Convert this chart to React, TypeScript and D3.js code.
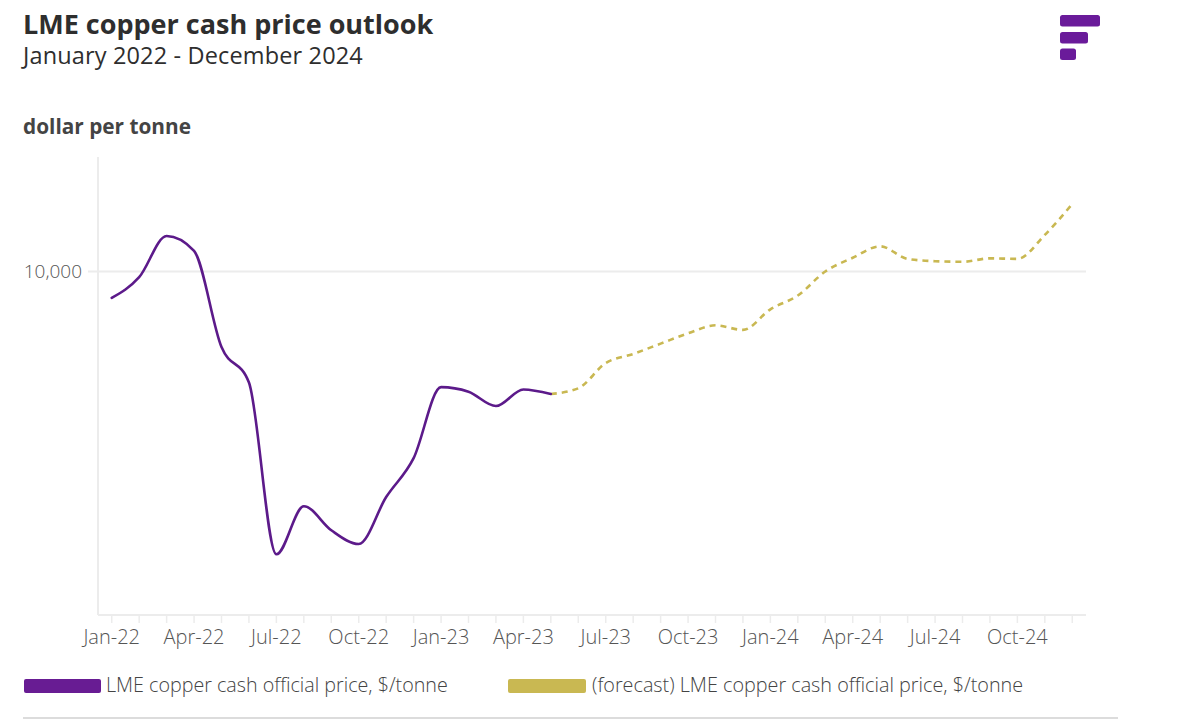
import React from "react";
import * as d3 from "d3";

const months: string[] = [
  "Jan-22","Feb-22","Mar-22","Apr-22","May-22","Jun-22","Jul-22","Aug-22","Sep-22","Oct-22","Nov-22","Dec-22",
  "Jan-23","Feb-23","Mar-23","Apr-23","May-23","Jun-23","Jul-23","Aug-23","Sep-23","Oct-23","Nov-23","Dec-23",
  "Jan-24","Feb-24","Mar-24","Apr-24","May-24","Jun-24","Jul-24","Aug-24","Sep-24","Oct-24","Nov-24","Dec-24",
];

// Historical: Jan-22 .. May-23
const actualMonths: string[] = months.slice(0, 17);
const actualValues: number[] = [
  9770, 9950, 10310, 10180, 9340, 9030, 7530, 7950, 7740, 7620, 8030, 8370,
  8990, 8950, 8825, 8970, 8930,
];

// Forecast: May-23 .. Dec-24
const forecastMonths: string[] = months.slice(16);
const forecastValues: number[] = [
  8930, 8980, 9200, 9280, 9370, 9460, 9530, 9490,
  9670, 9790, 10000, 10120, 10220, 10110, 10090, 10085, 10115, 10110, 10320, 10590,
];

const yTicks: number[] = [10000];
const xLabelMonths: string[] = months.filter((_, i) => i % 3 === 0);

const seriesNames: string[] = [
  "LME copper cash official price, $/tonne",
  "(forecast) LME copper cash official price, $/tonne",
];

const FONT = "'Open Sans', Lato, sans-serif";
const PURPLE = "#5c1a8a";
const PURPLE_LEG = "#681c93";
const GOLD = "#c9b852";
const GRID = "#ececec";

export default function App() {
  const W = 1200, H = 725;
  const left = 98, right = 1086, top = 157, bottom = 615;

  const x = d3.scaleBand<string>().domain(months).range([left, right]).padding(0);
  const cx = (m: string) => (x(m) as number) + x.bandwidth() / 2;
  const y = d3.scaleLinear().domain([7000, 11000]).range([bottom, top]);

  const line = d3
    .line<[string, number]>()
    .x((d) => cx(d[0]))
    .y((d) => y(d[1]))
    .curve(d3.curveMonotoneX);

  const actualPath = line(actualMonths.map((m, i) => [m, actualValues[i]]) as [string, number][]) || "";
  const forecastPath = line(forecastMonths.map((m, i) => [m, forecastValues[i]]) as [string, number][]) || "";

  return (
    <div style={{ position: "absolute", left: 0, top: 0, width: W, height: H, background: "#fff" }}>
      <svg width={W} height={H} style={{ display: "block", fontFamily: FONT }}>
        <rect x={0} y={0} width={W} height={H} fill="#fff" />
        {/* Titles */}
        <text x={23} y={34} fontSize={27} fontWeight={700} fill="#2e2e2e">
          LME copper cash price outlook
        </text>
        <text x={23} y={64} fontSize={23.5} fontWeight={400} fill="#2e2e2e" letterSpacing={0.15}>
          January 2022 - December 2024
        </text>
        <text x={23} y={134} fontSize={20.8} fontWeight={700} fill="#444">
          dollar per tonne
        </text>

        {/* Logo */}
        <rect x={1060} y={15} width={40} height={11.5} rx={2.5} fill="#6a1b9a" />
        <rect x={1060} y={32} width={28} height={11.5} rx={2.5} fill="#6a1b9a" />
        <rect x={1060} y={48.5} width={16} height={11.5} rx={2.5} fill="#6a1b9a" />

        {/* Axes / grid */}
        <line x1={left} x2={left} y1={top} y2={bottom} stroke={GRID} strokeWidth={2} />
        {yTicks.map((t) => (
          <g key={t}>
            <line x1={88} x2={right} y1={y(t)} y2={y(t)} stroke={GRID} strokeWidth={2} />
            <text x={82} y={y(t)} dy="0.36em" textAnchor="end" fontSize={19} fontWeight={300} fill="#555">
              {d3.format(",")(t)}
            </text>
          </g>
        ))}
        <line x1={left} x2={right} y1={bottom} y2={bottom} stroke={GRID} strokeWidth={2} />
        {months.map((m) => (
          <line key={m} x1={cx(m)} x2={cx(m)} y1={bottom} y2={bottom + 8} stroke={GRID} strokeWidth={1.5} />
        ))}
        {xLabelMonths.map((m) => (
          <text key={m} x={cx(m)} y={644} textAnchor="middle" fontSize={20} fontWeight={300} fill="#555">
            {m}
          </text>
        ))}

        {/* Lines */}
        <path d={forecastPath} fill="none" stroke={GOLD} strokeWidth={2.6} strokeDasharray="6 5" />
        <path d={actualPath} fill="none" stroke={PURPLE} strokeWidth={2.6} strokeLinejoin="round" strokeLinecap="round" />

        {/* Legend */}
        <rect x={24} y={679} width={77} height={14} rx={2} fill={PURPLE_LEG} />
        <text x={106} y={692} fontSize={19.7} fontWeight={300} fill="#444">
          {seriesNames[0]}
        </text>
        <rect x={508} y={679} width={78} height={14} rx={2} fill={GOLD} />
        <text x={592} y={692} fontSize={19.8} fontWeight={300} fill="#444">
          {seriesNames[1]}
        </text>
        <line x1={23} x2={1118} y1={718} y2={718} stroke="#dcdcdc" strokeWidth={2} />
      </svg>
    </div>
  );
}
